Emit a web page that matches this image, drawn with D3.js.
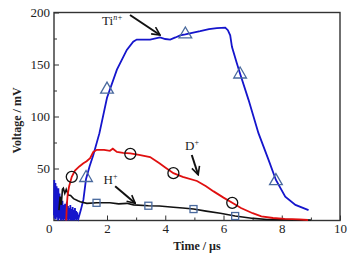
<!DOCTYPE html>
<html>
<head>
<meta charset="utf-8">
<script src="https://cdn.jsdelivr.net/npm/d3@7"></script>
<style>
body { margin: 0; background: #fff; }
text { font-family: "Liberation Serif", "Times New Roman", serif; }
</style>
</head>
<body>
<div class="container"></div>
<script>
// Ti n+ signal (blue): noisy start, then the main pulse
var tiNoiseTime = d3.range(18, 101).map(function(i){ return i / 100; });
var tiNoiseVolt = [5,39,2,30,8,36,1,25,12,33,3,28,6,22,0,31,9,18,2,26,4,20,1,
  14,0,17,3,11,1,19,5,8,0,15,2,12,6,1,16,3,9,0,13,4,18,1,7,2,14,0,10,5,12,1,8,3,15,0,9,2,11,4,6,0,13,1,8,3,10,0,7,2,12,1,5,3,9,0,6,2,8,1,4];
var tiTime = [1.02,1.10,1.19,1.28,1.40,1.53,1.74,2.00,2.34,2.68,2.90,3.02,3.48,3.82,4.00,4.17,4.35,4.51,4.69,5.00,5.20,5.50,5.77,6.06,6.15,6.23,6.29,6.45,6.57,6.86,7.20,7.55,7.80,8.12,8.47,8.92];
var tiVolt = [2,10,20,40,52,63,84,118,145,164,172,174,174,176,174.5,174,176,178,179,181,182,184,185,185.5,183,178,167,152,141,116,84,58,39,23,15,10];

// D+ signal (red)
var dTime = [0.60,0.62,0.65,0.70,0.79,0.90,1.05,1.19,1.30,1.42,1.53,1.65,1.90,2.10,2.20,2.34,2.55,2.80,3.10,3.48,3.80,4.00,4.28,4.60,5.09,5.40,5.66,6.00,6.30,6.60,7.00,7.30,7.70,8.10,8.60,8.90];
var dVolt = [0,15,25,33,42,48,52,55,57,60,66,68,68,67,69,66,65,64.5,63,61,55,51,45.5,42,38,33,28,22,17,12,7,4,2.4,1.5,1,0.5];

// H+ signal (black)
var hTime = [0.35,0.39,0.43,0.47,0.50,0.55,0.60,0.67,0.75,0.85,1.00,1.08,1.31,1.65,2.10,2.40,2.68,2.91,3.42,3.80,4.28,4.60,4.97,5.40,5.89,6.40,7.03,7.50,8.00,8.50,9.00];
var hVolt = [10,23,15,30,31,26,30,24.5,24,21,19,18,16.5,17,17,16,16.5,15,14.2,14,12.7,12,11,9,7,4.3,2,1,0.8,0.6,0.5];

// symbols on the curves
var tiMarkT = [1.28,2.00,4.69,6.57,7.80];
var tiMarkV = [42,127,180,141.5,39];
var dMarkT = [0.79,2.80,4.28,6.30];
var dMarkV = [42,64,45.5,17];
var hMarkT = [1.64,3.42,4.97,6.40];
var hMarkV = [17,14.2,11,4.3];

var xTicks = [0,2,4,6,8,10];
var xMinor = [1,3,5,7,9];
var yTicks = [50,100,150,200];
var yMinor = [25,75,125,175];

const WIDTH = 352;
const HEIGHT = 264;
const LEFT = 54, RIGHT = 340, TOP = 12.5, BOTTOM = 220.5;

var svg = d3.select('.container').append('svg')
  .attr('width', WIDTH)
  .attr('height', HEIGHT);

var xScale = d3.scaleLinear().domain([0.18, 10]).range([LEFT, RIGHT]);
var yScale = d3.scaleLinear().domain([0, 200]).range([BOTTOM, TOP]);

var zip = function(ts, vs){ return ts.map(function(t,i){ return [t, vs[i]]; }); };

var line = d3.line()
  .x(function(d){ return xScale(d[0]); })
  .y(function(d){ return yScale(d[1]); });

// axes
var xAxis = svg.append('g')
  .attr('transform', 'translate(0,' + BOTTOM + ')')
  .call(d3.axisBottom(xScale).tickValues(xTicks).tickSize(-5).tickPadding(3));
xAxis.selectAll('.tick').filter(function(d){ return d === 0; }).select('line').remove();

svg.append('g')
  .attr('transform', 'translate(0,' + BOTTOM + ')')
  .call(d3.axisBottom(xScale).tickValues(xMinor).tickSize(-3).tickFormat(''));

svg.append('g')
  .attr('transform', 'translate(' + LEFT + ',0)')
  .call(d3.axisLeft(yScale).tickValues(yTicks).tickSize(-5).tickPadding(4));

svg.append('g')
  .attr('transform', 'translate(' + LEFT + ',0)')
  .call(d3.axisLeft(yScale).tickValues(yMinor).tickSize(-3).tickFormat(''));

svg.selectAll('.domain').remove();
svg.selectAll('.tick line').attr('stroke', '#333').attr('stroke-width', 1);
svg.selectAll('.tick text').attr('font-size', 13).attr('fill', '#222')
  .attr('font-family', '"Liberation Serif", serif');

svg.append('rect')
  .attr('x', LEFT).attr('y', TOP)
  .attr('width', RIGHT - LEFT).attr('height', BOTTOM - TOP)
  .attr('fill', 'none').attr('stroke', '#333').attr('stroke-width', 1.4);

// curves
svg.append('path').attr('d', line(zip(tiNoiseTime, tiNoiseVolt).concat(zip(tiTime, tiVolt))))
  .attr('fill', 'none').attr('stroke', '#1515cc').attr('stroke-width', 1.8);
svg.append('path').attr('d', line(zip(hTime, hVolt)))
  .attr('fill', 'none').attr('stroke', '#111').attr('stroke-width', 1.6);
svg.append('path').attr('d', line(zip(dTime, dVolt)))
  .attr('fill', 'none').attr('stroke', '#e01010').attr('stroke-width', 1.8);

// symbols
svg.selectAll('.tri').data(zip(tiMarkT, tiMarkV)).enter().append('path')
  .attr('d', d3.symbol(d3.symbolTriangle, 70))
  .attr('transform', function(d){ return 'translate(' + xScale(d[0]) + ',' + (yScale(d[1]) + 1) + ')'; })
  .attr('fill', 'none').attr('stroke', '#4a6a9e').attr('stroke-width', 1.3);

svg.selectAll('.circ').data(zip(dMarkT, dMarkV)).enter().append('circle')
  .attr('cx', function(d){ return xScale(d[0]); })
  .attr('cy', function(d){ return yScale(d[1]); })
  .attr('r', 5.5)
  .attr('fill', 'none').attr('stroke', '#111').attr('stroke-width', 1.3);

svg.selectAll('.sq').data(zip(hMarkT, hMarkV)).enter().append('rect')
  .attr('x', function(d){ return xScale(d[0]) - 3.5; })
  .attr('y', function(d){ return yScale(d[1]) - 3.5; })
  .attr('width', 7).attr('height', 7)
  .attr('fill', 'none').attr('stroke', '#4a6a9e').attr('stroke-width', 1.3);

// annotations (data units)
var labelText = ['Ti', 'D', 'H'];
var labelSup = ['n+', '+', '+'];
var labelT = [1.83, 4.68, 1.88];
var labelV = [188, 68, 35];
var arrowFrom = [[2.79, 197.6], [4.91, 63], [2.28, 33]];
var arrowTo = [[3.82, 178.4], [5.13, 44], [2.97, 16.5]];

svg.append('defs').append('marker')
  .attr('id', 'head').attr('viewBox', '0 0 10 10')
  .attr('refX', 9).attr('refY', 5)
  .attr('markerWidth', 5).attr('markerHeight', 5)
  .attr('markerUnits', 'strokeWidth')
  .attr('orient', 'auto')
  .append('path').attr('d', 'M1,1 L9,5 L1,9')
  .attr('fill', 'none').attr('stroke', '#111').attr('stroke-width', 1.6);

labelText.forEach(function(s, i){
  var t = svg.append('text')
    .attr('x', xScale(labelT[i])).attr('y', yScale(labelV[i]))
    .attr('font-size', 13).attr('fill', '#222');
  t.append('tspan').text(s);
  t.append('tspan').attr('dy', -5).attr('font-size', 8)
    .attr('font-style', i === 0 ? 'italic' : 'normal').text(labelSup[i]);

  svg.append('line')
    .attr('x1', xScale(arrowFrom[i][0])).attr('y1', yScale(arrowFrom[i][1]))
    .attr('x2', xScale(arrowTo[i][0])).attr('y2', yScale(arrowTo[i][1]))
    .attr('stroke', '#111').attr('stroke-width', 2)
    .attr('marker-end', 'url(#head)');
});

// axis titles
svg.append('text')
  .attr('x', (LEFT + RIGHT) / 2).attr('y', 250)
  .attr('text-anchor', 'middle').attr('font-size', 12).attr('font-weight', 'bold')
  .attr('fill', '#222').text('Time / µs');

svg.append('text')
  .attr('transform', 'translate(21,' + ((TOP + BOTTOM) / 2 + 4) + ') rotate(-90)')
  .attr('text-anchor', 'middle').attr('font-size', 12).attr('font-weight', 'bold')
  .attr('fill', '#222').text('Voltage / mV');
</script>
</body>
</html>
